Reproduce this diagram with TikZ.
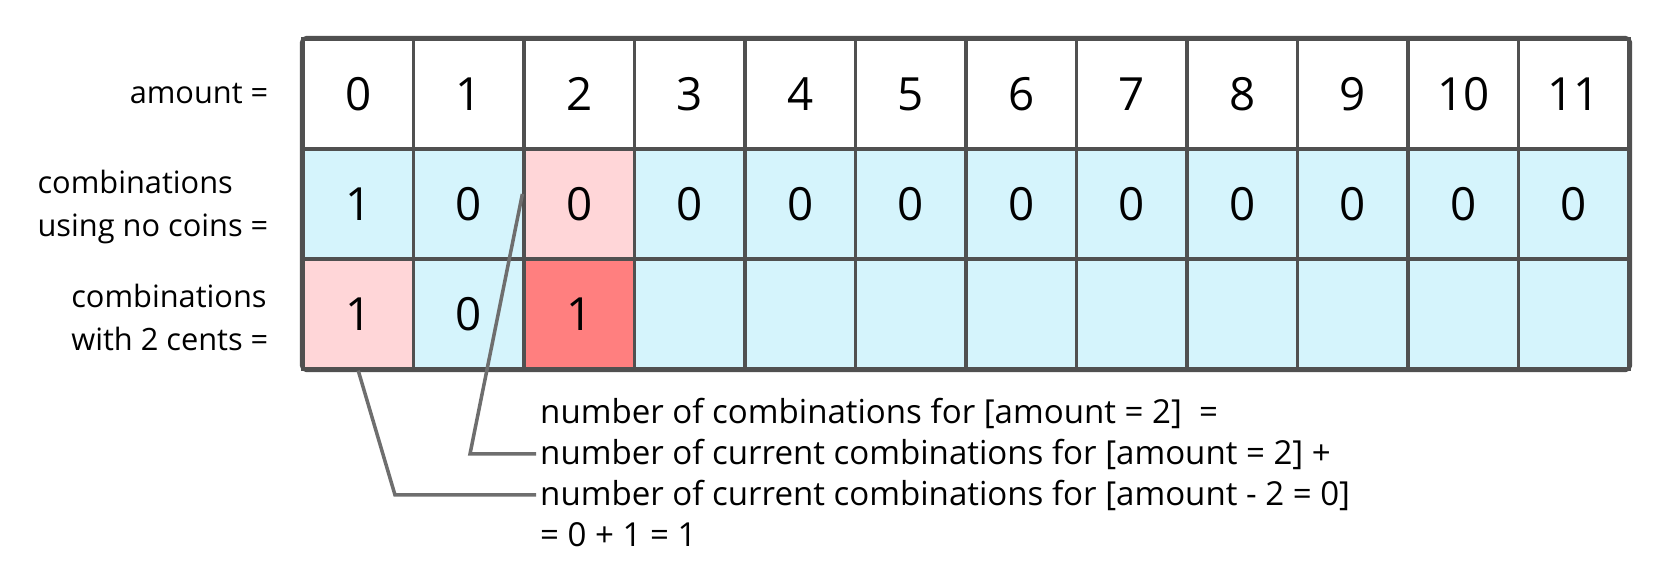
\documentclass[tikz,border=0pt]{standalone}
\usepackage{fontspec}
\setmainfont{Open Sans}
\usepackage{tikz}
\definecolor{cellblue}{HTML}{D5F4FC}
\definecolor{cellpink}{HTML}{FFD6D8}
\definecolor{cellred}{HTML}{FF7F7F}
\definecolor{gridgray}{HTML}{505050}
\definecolor{linkgray}{HTML}{6E6E6E}

\begin{document}
\begin{tikzpicture}[x=0.01cm,y=-0.01cm,
    cell/.style={draw=gridgray,line width=0.9pt,minimum width=1.105cm,minimum height=1.1cm,inner sep=0pt,font=\fontsize{13}{15}\selectfont},
    rowlabel/.style={anchor=east,align=left,inner sep=0pt,font=\fontsize{8.75}{12.2}\selectfont},
    note/.style={anchor=base west,inner sep=1pt,font=\fontsize{9.4}{12}\selectfont},
    link/.style={draw=linkgray,line width=1pt}]
    \useasboundingbox (0,0) rectangle (1666,572);
    % amount row
    \foreach \i in {0,...,11}
        \node[cell,fill=white] (a\i) at (358.25+110.5*\i,94) {\i};
    % using no coins
    \foreach \v/\c [count=\i from 0] in {1/cellblue,0/cellblue,0/cellpink,0/cellblue,0/cellblue,0/cellblue,0/cellblue,0/cellblue,0/cellblue,0/cellblue,0/cellblue,0/cellblue}
        \node[cell,fill=\c] (b\i) at (358.25+110.5*\i,204) {\v};
    % with 2 cents
    \foreach \v/\c [count=\i from 0] in {1/cellpink,0/cellblue,1/cellred,\phantom{0}/cellblue,\phantom{0}/cellblue,\phantom{0}/cellblue,\phantom{0}/cellblue,\phantom{0}/cellblue,\phantom{0}/cellblue,\phantom{0}/cellblue,\phantom{0}/cellblue,\phantom{0}/cellblue}
        \node[cell,fill=\c] (c\i) at (358.25+110.5*\i,314) {\v};
    \draw[gridgray,line width=0.9pt,rounded corners=1.5pt] (a0.north west) rectangle (c11.south east);

    \node[rowlabel] (la) at (269,94) {amount =};
    \node[rowlabel] (lb) at (269,207) {combinations\\using no coins =};
    \node[rowlabel] (lc) at (269,317) {combinations\\with 2 cents =};

    \node[note] (n1) at (536,423) {number of combinations for [amount = 2]\ \ =};
    \node[note] (n2) at (536,464) {number of current combinations for [amount = 2] +};
    \node[note] (n3) at (536,505) {number of current combinations for [amount - 2 = 0]};
    \node[note] (n4) at (536,546) {= 0 + 1 = 1};

    \draw[link] ([yshift=2.85pt]b2.west) -- (470,0 |- n2.west) -- (n2.west);
    \draw[link] (c0.south) -- (395,0 |- n3.west) -- (n3.west);
\end{tikzpicture}
\end{document}
